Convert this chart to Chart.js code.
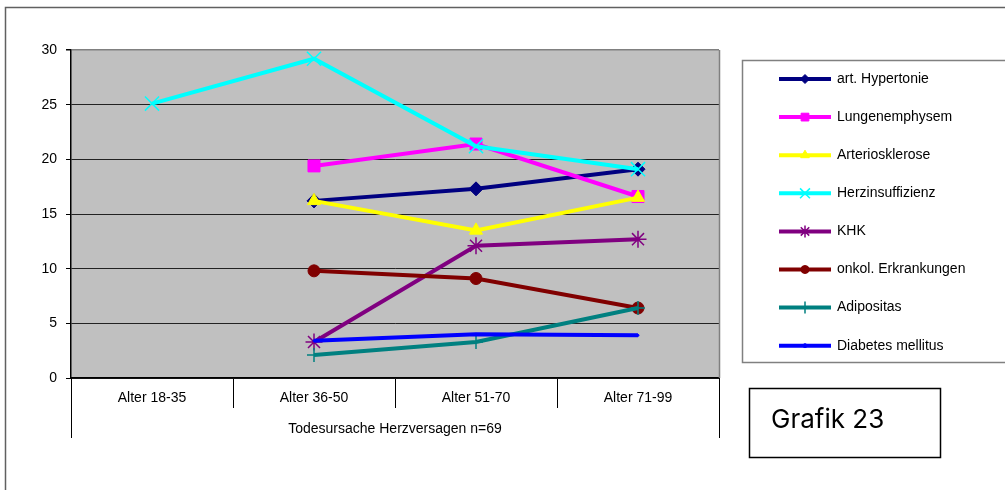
<!DOCTYPE html>
<html>
<head>
<meta charset="utf-8">
<script src="https://cdn.jsdelivr.net/npm/chart.js@4"></script>
<style>
  html, body { margin: 0; padding: 0; background: #fff; }
  #wrap { width: 1005px; height: 490px; position: relative; }
</style>
</head>
<body>
<div id="wrap"><canvas id="chart" width="1005" height="490"></canvas></div>
<script>
// categories and series values (percent)
const categories = ['Alter 18-35', 'Alter 36-50', 'Alter 51-70', 'Alter 71-99'];
const axisTitle = 'Todesursache Herzversagen n=69';
const yTicks = [0, 5, 10, 15, 20, 25, 30];

const seriesNames = ['art. Hypertonie', 'Lungenemphysem', 'Arteriosklerose', 'Herzinsuffizienz',
    'KHK', 'onkol. Erkrankungen', 'Adipositas', 'Diabetes mellitus'];
const hypertonie = [null, 16.2, 17.3, 19.1];
const lungenemphysem = [null, 19.4, 21.4, 16.6];
const arteriosklerose = [null, 16.2, 13.5, 16.5];
const herzinsuffizienz = [25.1, 29.2, 21.2, 19.1];
const khk = [null, 3.3, 12.1, 12.7];
const onkol = [null, 9.8, 9.1, 6.4];
const adipositas = [null, 2.1, 3.3, 6.4];
const diabetes = [null, 3.4, 4.0, 3.9];

const seriesValues = [hypertonie, lungenemphysem, arteriosklerose, herzinsuffizienz, khk, onkol, adipositas, diabetes];
const seriesColors = ['#000080', '#ff00ff', '#ffff00', '#00ffff', '#800080', '#800000', '#008080', '#0000ff'];
const seriesMarkers = ['rectRot', 'rect', 'triangle', 'crossRot', 'star', 'circle', 'cross', 'circle'];
const markerSizes = [7, 8.5, 7.5, 10, 8.5, 6, 7, 1];
const legendMarkerSizes = [4.5, 5.5, 5, 7, 6, 4, 6, 2];

const FONT = '"Liberation Sans", Arial, sans-serif';

const datasets = seriesNames.map((name, i) => ({
    label: name,
    data: seriesValues[i],
    borderColor: seriesColors[i],
    backgroundColor: seriesColors[i],
    borderWidth: 4,
    pointStyle: seriesMarkers[i],
    pointRadius: markerSizes[i],
    pointBorderWidth: (seriesMarkers[i] === 'crossRot' || seriesMarkers[i] === 'cross' || seriesMarkers[i] === 'star') ? 1.5 : 1,
    tension: 0,
    order: seriesNames.length - i   // later series on top, like Excel
}));

// plot background, frame, category-table lines, legend and text box
const framePlugin = {
    id: 'frame',
    beforeDraw(chart) {
        const { ctx, chartArea: a } = chart;
        ctx.save();
        ctx.fillStyle = '#c0c0c0';
        ctx.fillRect(a.left, a.top, a.right - a.left, a.bottom - a.top);
        ctx.restore();
    },
    afterDraw(chart) {
        const { ctx, chartArea: a } = chart;
        ctx.save();
        // right plot border
        ctx.strokeStyle = '#808080';
        ctx.lineWidth = 1.5;
        ctx.beginPath();
        ctx.moveTo(a.right + 0.5, a.top);
        ctx.lineTo(a.right + 0.5, a.bottom);
        ctx.stroke();
        // outer lines of the category table
        ctx.strokeStyle = '#000';
        ctx.lineWidth = 1;
        ctx.beginPath();
        ctx.moveTo(a.left + 0.5, a.bottom);
        ctx.lineTo(a.left + 0.5, 438);
        ctx.moveTo(a.right + 0.5, a.bottom);
        ctx.lineTo(a.right + 0.5, 438);
        ctx.stroke();
        // chart frame
        ctx.strokeStyle = '#606060';
        ctx.lineWidth = 1.5;
        ctx.beginPath();
        ctx.moveTo(5.5, 490);
        ctx.lineTo(5.5, 7.5);
        ctx.lineTo(1010, 7.5);
        ctx.stroke();

        // legend
        const lx = 742, ly = 60, lw = 280, lh = 302;
        ctx.strokeStyle = '#808080';
        ctx.lineWidth = 1.5;
        ctx.strokeRect(lx + 0.5, ly + 0.5, lw, lh);
        ctx.font = '14px ' + FONT;
        ctx.textBaseline = 'middle';
        ctx.textAlign = 'left';
        chart.data.datasets.forEach((ds, i) => {
            const y = 79 + i * 38.1;
            ctx.strokeStyle = ds.borderColor;
            ctx.fillStyle = ds.borderColor;
            ctx.lineWidth = 4;
            ctx.beginPath();
            ctx.moveTo(779, y);
            ctx.lineTo(831, y);
            ctx.stroke();
            ctx.lineWidth = ds.pointBorderWidth;
            Chart.helpers.drawPoint(ctx, {
                pointStyle: ds.pointStyle,
                radius: legendMarkerSizes[i],
                borderWidth: ds.pointBorderWidth,
                rotation: 0
            }, 805, y);
            ctx.fillStyle = '#000';
            ctx.fillText(ds.label, 837, y);
        });

        // Grafik 23 box
        ctx.strokeStyle = '#000';
        ctx.lineWidth = 1.5;
        ctx.strokeRect(749.5, 388.5, 191, 69);
        ctx.fillStyle = '#000';
        ctx.font = '26px Inter, "Noto Sans", sans-serif';
        ctx.textBaseline = 'alphabetic';
        ctx.fillText('Grafik 23', 771, 428);
        ctx.restore();
    }
};

new Chart(document.getElementById('chart'), {
    type: 'line',
    data: { labels: categories, datasets: datasets },
    plugins: [framePlugin],
    options: {
        responsive: false,
        animation: false,
        layout: { padding: { left: 0, top: 50, right: 286, bottom: 0 } },
        plugins: { legend: { display: false }, tooltip: { enabled: false } },
        scales: {
            x: {
                offset: true,
                grid: { offset: true, drawOnChartArea: false, tickLength: 30, color: '#000', lineWidth: 1 },
                border: { color: '#000', width: 1.5 },
                ticks: { color: '#000', padding: -18, font: { family: FONT, size: 14 } },
                title: {
                    display: true, text: axisTitle, color: '#000',
                    font: { family: FONT, size: 14 },
                    padding: { top: 0, bottom: 52 }
                },
                afterFit(scale) { scale.height = 112; }
            },
            y: {
                min: 0, max: 30,
                afterBuildTicks(scale) { scale.ticks = yTicks.map(v => ({ value: v })); },
                grid: {
                    color: c => (c.tick && c.tick.value === 30) ? '#808080' : '#222',
                    lineWidth: c => (c.tick && c.tick.value === 30) ? 1.5 : 1,
                    tickLength: 5,
                    tickColor: '#000'
                },
                border: { color: '#000', width: 1.5 },
                ticks: { color: '#000', padding: 9, font: { family: FONT, size: 14 } },
                afterFit(scale) { scale.width = 71; }
            }
        }
    }
});
</script>
</body>
</html>
